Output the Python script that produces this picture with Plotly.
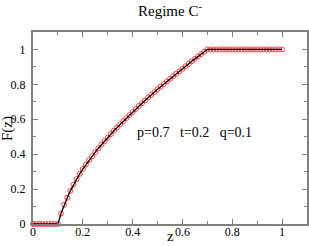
import plotly.graph_objects as go

z_vals = [0.0, 0.0125, 0.025, 0.0375, 0.05, 0.0625, 0.075, 0.0875, 0.1,
          0.1125, 0.125, 0.1375, 0.15, 0.1625, 0.175, 0.1875, 0.2,
          0.2125, 0.225, 0.2375, 0.25, 0.2625, 0.275, 0.2875, 0.3,
          0.3125, 0.325, 0.3375, 0.35, 0.3625, 0.375, 0.3875, 0.4,
          0.4125, 0.425, 0.4375, 0.45, 0.4625, 0.475, 0.4875, 0.5,
          0.5125, 0.525, 0.5375, 0.55, 0.5625, 0.575, 0.5875, 0.6,
          0.6125, 0.625, 0.6375, 0.65, 0.6625, 0.675, 0.6875, 0.7,
          0.7125, 0.725, 0.7375, 0.75, 0.7625, 0.775, 0.7875, 0.8,
          0.8125, 0.825, 0.8375, 0.85, 0.8625, 0.875, 0.8875, 0.9,
          0.9125, 0.925, 0.9375, 0.95, 0.9625, 0.975, 0.9875, 1.0]

F_vals = [0, 0, 0, 0, 0, 0, 0, 0, 0,
          0.06, 0.11, 0.15, 0.19, 0.225, 0.257, 0.287, 0.315,
          0.341, 0.366, 0.389, 0.412, 0.434, 0.455, 0.475, 0.495,
          0.515, 0.534, 0.553, 0.571, 0.589, 0.607, 0.624, 0.642,
          0.659, 0.676, 0.692, 0.708, 0.725, 0.740, 0.756, 0.772,
          0.787, 0.802, 0.817, 0.832, 0.847, 0.861, 0.875, 0.890,
          0.904, 0.918, 0.932, 0.946, 0.960, 0.973, 0.987, 1.0,
          1, 1, 1, 1, 1, 1, 1, 1,
          1, 1, 1, 1, 1, 1, 1, 1,
          1, 1, 1, 1, 1, 1, 1, 1]

x_ticks = [0, 0.2, 0.4, 0.6, 0.8, 1]
x_ticklabels = ["0", "0.2", "0.4", "0.6", "0.8", "1"]
y_ticks = [0, 0.2, 0.4, 0.6, 0.8, 1]
y_ticklabels = ["0", "0.2", "0.4", "0.6", "0.8", "1"]

FONT = "Liberation Serif, DejaVu Serif, serif"

fig = go.Figure()
fig.add_trace(go.Scatter(
    x=z_vals, y=F_vals, mode="markers",
    marker=dict(symbol="circle-open", size=5, color="#ff4040",
                line=dict(width=1, color="#ff4040")),
    showlegend=False, hoverinfo="skip", cliponaxis=False))
fig.add_trace(go.Scatter(
    x=z_vals, y=F_vals, mode="lines",
    line=dict(color="black", width=1.3),
    showlegend=False, hoverinfo="skip", cliponaxis=False))

axis_common = dict(
    showgrid=False, zeroline=False, automargin=False,
    showline=True, linecolor="#808080", linewidth=2, mirror="ticks",
    ticks="inside", ticklen=5, tickwidth=1, tickcolor="#808080",
    tickfont=dict(family=FONT, size=12, color="black"),
    minor=dict(ticks="inside", ticklen=3, tickwidth=1, tickcolor="#808080", dtick=0.1),
)

fig.update_layout(
    width=309, height=246,
    margin=dict(l=33, r=2, t=32, b=22),
    paper_bgcolor="white", plot_bgcolor="white",
    title=dict(text="Regime C<sup>-</sup>", x=0.5, xref="paper", y=0.955, yanchor="middle",
               font=dict(family=FONT, size=15, color="black")),
    xaxis=dict(range=[0, 1.1], tickvals=x_ticks, ticktext=x_ticklabels, ticklabelstandoff=-4,
               **axis_common),
    yaxis=dict(range=[0, 1.1], tickvals=y_ticks, ticktext=y_ticklabels, ticklabelstandoff=3,
               **axis_common),
    annotations=[
        dict(text="p=0.7&nbsp;&nbsp;&nbsp;t=0.2&nbsp;&nbsp;&nbsp;q=0.1",
             x=0.807, y=0.526, xref="paper", yref="y", showarrow=False,
             font=dict(family=FONT, size=14, color="black")),
        dict(text="z", x=0.5, y=-0.11, xref="paper", yref="paper", xanchor="center",
             yanchor="bottom", showarrow=False, borderpad=0,
             font=dict(family=FONT, size=15, color="black")),
        dict(text="F(z)", x=-0.095, y=0.5, xref="paper", yref="paper", textangle=-90,
             xanchor="center", yanchor="middle", showarrow=False,
             font=dict(family=FONT, size=15, color="black")),
    ],
)

fig.write_html("out.html", config={"displayModeBar": False},
               post_script="document.body.style.margin='0';document.body.style.padding='0';")
